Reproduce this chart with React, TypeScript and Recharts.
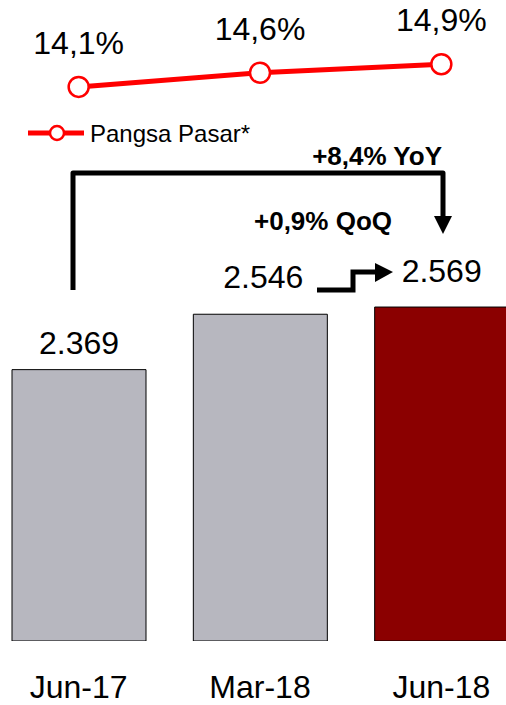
import { ComposedChart, Bar, Line, XAxis, YAxis, Cell, LabelList, Legend } from 'recharts';

const categories = ['Jun-17', 'Mar-18', 'Jun-18'];
const outstanding = [2369, 2546, 2569];
const marketShare = [14.1, 14.6, 14.9];

const data = categories.map((period, i) => ({
  period,
  outstanding: outstanding[i],
  share: marketShare[i],
}));

const FONT = "'Liberation Sans', Arial, sans-serif";
const GREY = '#B7B7BF';
const DARK_RED = '#8B0000';
const RED = '#FF0000';
// how far each bar's value label sits above the bar top
const barLift = [16, 26, 25];

const fmtValue = (v: number) => (v / 1000).toFixed(3);
const fmtShare = (v: number) => `${v.toFixed(1).replace('.', ',')}%`;

function BarValueLabel(props: any) {
  const { x, y, width, value } = props;
  const i = props.index ?? outstanding.indexOf(Number(value));
  return (
    <text
      x={Number(x) + Number(width) / 2 + (i === 1 ? 3 : 0)}
      y={Number(y) - barLift[i]}
      textAnchor="middle"
      fontSize={32}
      fontFamily={FONT}
      fill="#000"
    >
      {fmtValue(Number(value))}
    </text>
  );
}

function ShareDot(props: any) {
  const { cx, cy, index } = props;
  if (cx == null || cy == null) return null;
  return <circle key={`dot-${index}`} cx={cx} cy={cy} r={10} fill="#fff" stroke={RED} strokeWidth={2.5} />;
}

function LegendContent() {
  return (
    <svg width={240} height={32}>
      <line x1={0} y1={15} x2={56} y2={15} stroke={RED} strokeWidth={5} />
      <circle cx={29} cy={15} r={7} fill="#fff" stroke={RED} strokeWidth={2.5} />
      <text x={62} y={24} fontSize={24} fontFamily={FONT} fill="#000">
        Pangsa Pasar*
      </text>
    </svg>
  );
}

function Annotations() {
  return (
    <svg width={506} height={705} style={{ position: 'absolute', left: 0, top: 0, pointerEvents: 'none' }}>
      <polyline
        points="73,290 73,173 443,173 443,218"
        fill="none"
        stroke="#000"
        strokeWidth={5}
        strokeLinejoin="round"
      />
      <polygon points="434,216 452,216 443,234" fill="#000" />
      <text x={442} y={165} textAnchor="end" fontSize={26} fontWeight="bold" fontFamily={FONT} fill="#000">
        +8,4% YoY
      </text>
      <polyline
        points="317,290 353,290 353,272 377,272"
        fill="none"
        stroke="#000"
        strokeWidth={5}
      />
      <polygon points="375,263 375,282 393,272" fill="#000" />
      <text x={323} y={230} textAnchor="middle" fontSize={26} fontWeight="bold" fontFamily={FONT} fill="#000">
        +0,9% QoQ
      </text>
    </svg>
  );
}

export default function App() {
  return (
    <div style={{ position: 'fixed', left: 0, top: 0, width: 506, height: 705, overflow: 'hidden', background: '#fff' }}>
      <div style={{ position: 'absolute', left: -12, top: 0 }}>
        <ComposedChart width={544} height={705} data={data} margin={{ top: 0, right: 0, bottom: 0, left: 0 }}>
          <XAxis
            dataKey="period"
            axisLine={false}
            tickLine={false}
            tickSize={0}
            tickMargin={34}
            height={64}
            interval={0}
            tick={{ fontSize: 32, fontFamily: FONT, fill: '#000' }}
          />
          <YAxis yAxisId="bars" hide type="number" domain={[1502, 3550]} allowDataOverflow />
          <YAxis yAxisId="share" hide type="number" domain={[-5.41, 17.16]} allowDataOverflow />
          <Legend
            layout="horizontal"
            verticalAlign="middle"
            align="center"
            content={() => <LegendContent />}
            wrapperStyle={{ position: 'absolute', top: 118, left: 40, width: 240, height: 32 }}
          />
          <Bar yAxisId="bars" dataKey="outstanding" barSize={134} stroke="#000" strokeWidth={1} isAnimationActive={false}>
            {data.map((d, i) => (
              <Cell key={d.period} fill={i === data.length - 1 ? DARK_RED : GREY} />
            ))}
            <LabelList dataKey="outstanding" content={BarValueLabel} />
          </Bar>
          <Line
            yAxisId="share"
            dataKey="share"
            type="linear"
            stroke={RED}
            strokeWidth={5}
            dot={ShareDot}
            activeDot={false}
            isAnimationActive={false}
          >
            <LabelList
              dataKey="share"
              position="top"
              offset={33}
              formatter={(v: any) => fmtShare(Number(v))}
              style={{ fontSize: 32, fontFamily: FONT, fill: '#000' }}
            />
          </Line>
        </ComposedChart>
      </div>
      <Annotations />
    </div>
  );
}
